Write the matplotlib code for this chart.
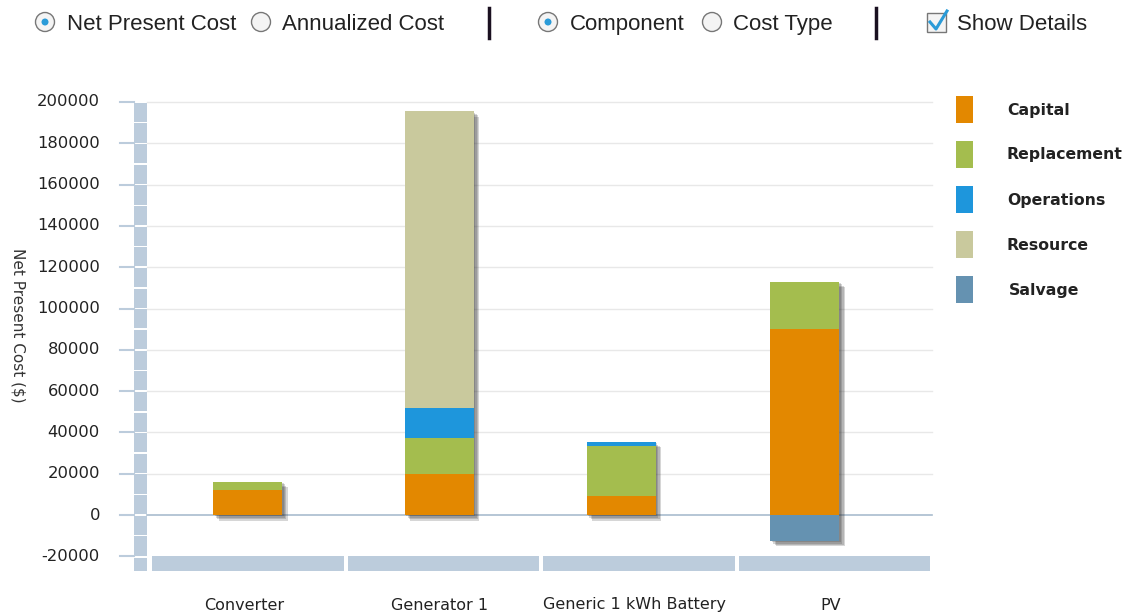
import matplotlib
matplotlib.use('Agg')
import matplotlib.pyplot as plt
from matplotlib import patheffects, patches
import numpy as np

plt.rcParams['font.family'] = ['DejaVu Sans']

categories = ['Converter', 'Generator 1', 'Generic 1 kWh Battery', 'PV']
capital = [12000, 20000, 9000, 90000]
replacement = [4200, 17500, 24500, 23000]
operations = [0, 14500, 1900, 0]
resource = [0, 143500, 0, 0]
salvage = [0, 0, 0, -12500]

series_names = ['Capital', 'Replacement', 'Operations', 'Resource', 'Salvage']
colors = ['#E38800', '#A4BD4E', '#1E96DC', '#C9C99D', '#6592B1']
yticks = list(range(-20000, 200001, 20000))

BAND = '#BCCCDC'
W, H = 1129, 616

fig = plt.figure(figsize=(W / 100, H / 100), dpi=100)

# axes area in pixels: x 134..932, y 102 (200000) .. 571 (bottom of band)
px_per = (515 - 102) / 200000
ybot = -(571 - 515) / px_per
ax = fig.add_axes([134 / W, (H - 571) / H, (932 - 134) / W, (571 - 102) / H])
cat_w = (932 - 150) / 4
x_left = -0.5 - (150 - 134) / cat_w
ax.set_xlim(x_left, 3.5)
ax.set_ylim(ybot, 200000)
ax.axis('off')

# gridlines
for t in yticks:
    if t == -20000:
        continue
    ax.plot([x_left + 13 / cat_w, 3.5], [t, t], color='#A9BCCE' if t == 0 else '#E8E8E8',
            lw=1.2 if t == 0 else 1.0, zorder=1, clip_on=False)

# vertical wall band, segmented every 10000
band_x0 = x_left
band_x1 = x_left + 13 / cat_w
gap = 1.5 / px_per
for v in range(-20000, 200000, 10000):
    ax.add_patch(patches.Rectangle((band_x0, v + gap / 2), band_x1 - band_x0, 10000 - gap,
                                   color=BAND, lw=0, zorder=2, clip_on=False))
# corner square
ax.add_patch(patches.Rectangle((band_x0, ybot), band_x1 - band_x0, -20000 - ybot - gap,
                               color=BAND, lw=0, zorder=2, clip_on=False))
# bottom floor band, one piece per category
g = 2 / cat_w
for i in range(len(categories)):
    x0 = i - 0.5 + g
    ax.add_patch(patches.Rectangle((x0, ybot), 1 - 2 * g, -20000 - ybot,
                                   color=BAND, lw=0, zorder=2, clip_on=False))

# tick marks and labels
for t in yticks:
    ax.plot([x_left - 14 / cat_w, x_left], [t, t], color=BAND, lw=1.5, clip_on=False)
    ax.text(x_left - 34 / cat_w, t, str(t), ha='right', va='center', fontsize=11.8,
            color='#222222')

ax.text(x_left - 116 / cat_w, 92000, 'Net Present Cost ($)', rotation=-90, ha='center',
        va='center', fontsize=11, color='#333333')

# bars (centers, a little left of the category centres)
bar_pos = np.arange(len(categories)) + np.array([0.0, -0.02, -0.09, -0.15])
bar_w = 69 / cat_w
pos_series = [capital, replacement, operations, resource]
top = np.array(capital) + np.array(replacement) + np.array(operations) + np.array(resource)
low = np.array(salvage)
shadow = [patheffects.SimplePatchShadow(offset=(d, -d), shadow_rgbFace='#333333', alpha=0.2)
          for d in (1, 2, 3, 4)]
ax.bar(bar_pos, top - low, bottom=low, width=bar_w, color='white', zorder=3,
       path_effects=shadow)
bottom = np.zeros(len(categories))
for vals, c in zip(pos_series, colors[:4]):
    vals = np.array(vals)
    ax.bar(bar_pos, vals, bottom=bottom, width=bar_w, color=c, zorder=4, lw=0)
    bottom = bottom + vals
ax.bar(bar_pos, salvage, width=bar_w, color=colors[4], zorder=4, lw=0)

for i, name in enumerate(categories):
    ax.text(i - 0.02, ybot - 34 / px_per, name, ha='center', va='center', fontsize=11.5,
            color='#222222')

# legend
for i, (name, c) in enumerate(zip(series_names, colors)):
    yc = 110 + 45 * i
    fig.patches.append(patches.Rectangle((956 / W, (H - yc - 13) / H), 17 / W, 27 / H,
                                         color=c, transform=fig.transFigure, lw=0))
    fig.text((1007 if name != 'Salvage' else 1009) / W, (H - yc) / H, name, ha='left',
             va='center', fontsize=11.3, fontweight='bold', color='#222222')

# top controls
ytop = (H - 22) / H
ctl_font = ['Liberation Sans', 'DejaVu Sans']


def radio(x, checked):
    fig.patches.append(patches.Ellipse((x / W, ytop), 19 / W, 19 / H, transform=fig.transFigure,
                                       facecolor='#F4F4F4', edgecolor='#777777', lw=1.0))
    if checked:
        fig.patches.append(patches.Ellipse((x / W, ytop), 7 / W, 7 / H, transform=fig.transFigure,
                                           facecolor='#2A9BD8', edgecolor='none'))


def label(x, s):
    fig.text(x / W, ytop, s, ha='left', va='center_baseline', fontsize=16, color='#222222',
             family=ctl_font)


radio(45, True)
label(67, 'Net Present Cost')
radio(261, False)
label(282, 'Annualized Cost')
radio(548, True)
label(570, 'Component')
radio(712, False)
label(733, 'Cost Type')
for xd in [489, 876]:
    fig.add_artist(plt.Line2D([xd / W, xd / W], [(H - 38) / H, (H - 8) / H], color='#1A1020',
                              lw=2.5))
fig.patches.append(patches.Rectangle((927 / W, (H - 32) / H), 19 / W, 19 / H,
                                     transform=fig.transFigure, facecolor='#F4F4F4',
                                     edgecolor='#777777', lw=1.0))
fig.add_artist(plt.Line2D([930 / W, 936 / W, 947 / W], [(H - 22) / H, (H - 29) / H, (H - 11) / H],
                          color='#2A9BD8', lw=2.2))
label(957, 'Show Details')

fig.savefig('out.png', dpi=100)
